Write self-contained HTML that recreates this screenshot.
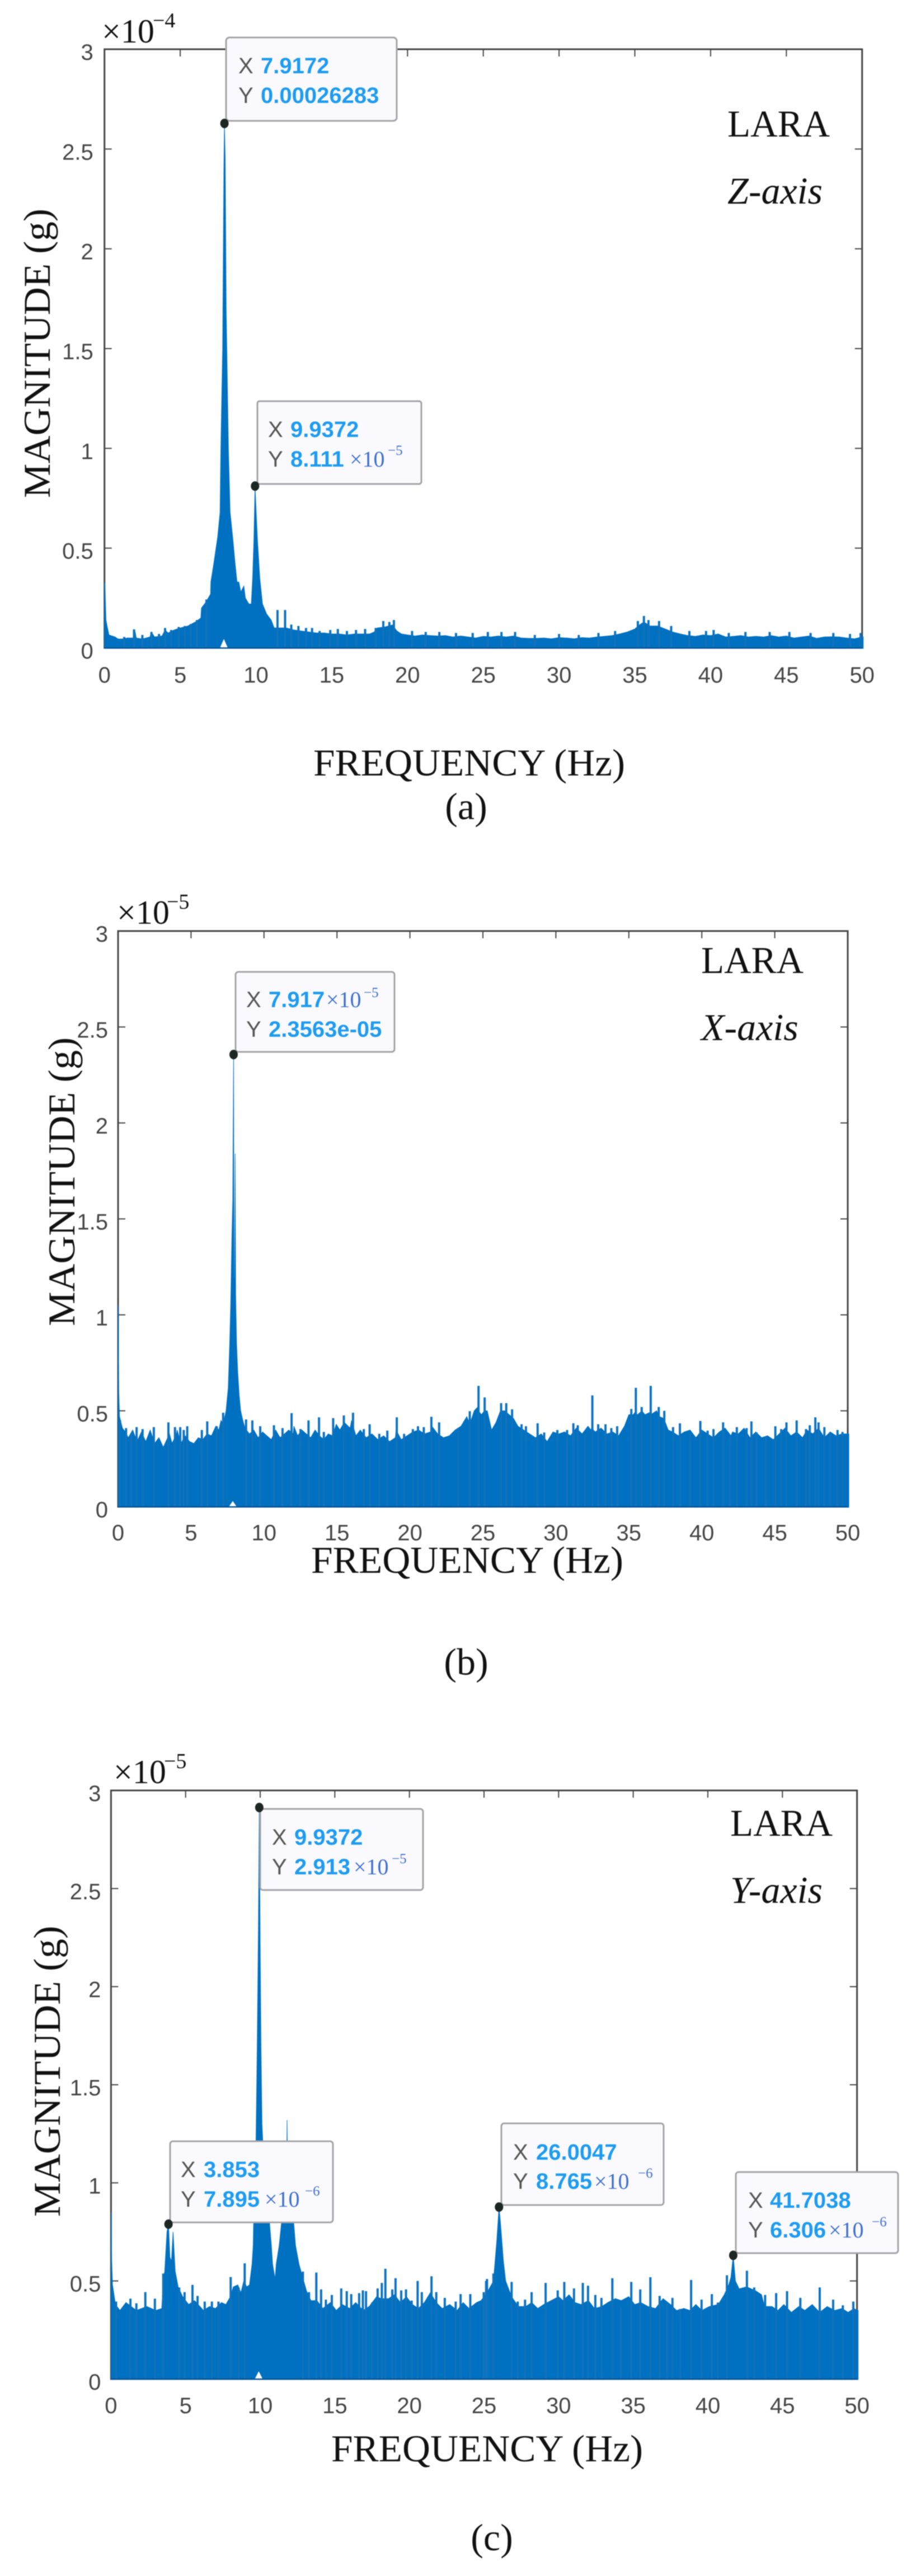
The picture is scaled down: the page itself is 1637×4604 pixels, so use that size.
<!DOCTYPE html>
<html lang="en">
<head>
<meta charset="utf-8">
<title>LARA frequency spectra</title>
<style>
html,body{margin:0;padding:0;background:#fff;width:1637px;height:4604px;overflow:hidden}
svg{display:block;position:absolute;left:0;top:0;filter:blur(0.7px)}
.tick{font:40px "Liberation Sans",sans-serif;fill:#454545}
.title{font:68px "Liberation Serif",serif;fill:#111}
.note{font:68px "Liberation Serif",serif;fill:#111}
.it{font-style:italic}
.exp{font:60px "Liberation Serif",serif;fill:#111}
.exps{font:38px "Liberation Serif",serif;fill:#111}
.box{fill:#fafafe;stroke:#a4a4a8;stroke-width:3}
.ck{font:40px "Liberation Sans",sans-serif;fill:#555}
.cv{font:bold 40px "Liberation Sans",sans-serif;fill:#1f9bee}
.cs{font:40px "Liberation Serif",serif;fill:#3f6fc8}
.css{font:25px "Liberation Serif",serif;fill:#3f6fc8}
</style>
</head>
<body>
<svg id="fig" xmlns="http://www.w3.org/2000/svg" width="1637" height="4604" viewBox="0 0 1637 4604">
  <rect width="1637" height="4604" fill="#fff"/>

  <g id="panel-a"></g>
  <g id="panel-b"></g>
  <g id="panel-c"></g>

  <!-- Panel a text -->
  <text class="exp" x="182" y="76">×10</text>
  <text class="exps" x="273" y="49">−4</text>
  <text class="title" x="560" y="1386" textLength="557" lengthAdjust="spacingAndGlyphs">FREQUENCY (Hz)</text>
  <text class="title" transform="translate(89,890) rotate(-90)" textLength="517" lengthAdjust="spacingAndGlyphs">MAGNITUDE (g)</text>
  <text class="note" x="1300" y="244" textLength="183" lengthAdjust="spacingAndGlyphs">LARA</text>
  <text class="note it" x="1300" y="364">Z-axis</text>
  <text class="title" x="833" y="1464" text-anchor="middle">(a)</text>

  <!-- Panel b text -->
  <text class="exp" x="209" y="1651">×10</text>
  <text class="exps" x="298" y="1624">−5</text>
  <text class="title" x="556" y="2811" textLength="558" lengthAdjust="spacingAndGlyphs">FREQUENCY (Hz)</text>
  <text class="title" transform="translate(133,2370) rotate(-90)" textLength="516" lengthAdjust="spacingAndGlyphs">MAGNITUDE (g)</text>
  <text class="note" x="1253" y="1739" textLength="183" lengthAdjust="spacingAndGlyphs">LARA</text>
  <text class="note it" x="1253" y="1859">X-axis</text>
  <text class="title" x="833" y="2993" text-anchor="middle">(b)</text>

  <!-- Panel c text -->
  <text class="exp" x="203" y="3187">×10</text>
  <text class="exps" x="293" y="3160">−5</text>
  <text class="title" x="592" y="4399" textLength="557" lengthAdjust="spacingAndGlyphs">FREQUENCY (Hz)</text>
  <text class="title" transform="translate(107,3962) rotate(-90)" textLength="520" lengthAdjust="spacingAndGlyphs">MAGNITUDE (g)</text>
  <text class="note" x="1305" y="3281" textLength="183" lengthAdjust="spacingAndGlyphs">LARA</text>
  <text class="note it" x="1305" y="3401">Y-axis</text>
  <text class="title" x="879" y="4558" text-anchor="middle">(c)</text>

  <!-- Data tips -->
  <g>
    <rect class="box" x="404" y="67" width="305" height="149" rx="6"/>
    <text class="ck" x="426" y="131">X</text><text class="cv" x="466" y="131">7.9172</text>
    <text class="ck" x="426" y="184">Y</text><text class="cv" x="466" y="184">0.00026283</text>
  </g>
  <g>
    <rect class="box" x="460" y="717" width="293" height="148" rx="4"/>
    <text class="ck" x="479" y="781">X</text><text class="cv" x="519" y="781">9.9372</text>
    <text class="ck" x="479" y="834">Y</text><text class="cv" x="519" y="834">8.111</text><text class="cs" x="625" y="834">×10</text><text class="css" x="693" y="813">−5</text>
  </g>
  <g>
    <rect class="box" x="421" y="1737" width="284" height="143" rx="5"/>
    <text class="ck" x="440" y="1800">X</text><text class="cv" x="480" y="1800">7.917</text><text class="cs" x="583" y="1800">×10</text><text class="css" x="650" y="1782">−5</text>
    <text class="ck" x="440" y="1853">Y</text><text class="cv" x="480" y="1853">2.3563e-05</text>
  </g>
  <g>
    <rect class="box" x="465" y="3233" width="291" height="145" rx="5"/>
    <text class="ck" x="486" y="3297">X</text><text class="cv" x="526" y="3297">9.9372</text>
    <text class="ck" x="486" y="3350">Y</text><text class="cv" x="526" y="3350">2.913</text><text class="cs" x="632" y="3350">×10</text><text class="css" x="700" y="3330">−5</text>
  </g>
  <g>
    <rect class="box" x="304" y="3827" width="291" height="145" rx="5"/>
    <text class="ck" x="323" y="3891">X</text><text class="cv" x="364" y="3891">3.853</text>
    <text class="ck" x="323" y="3944">Y</text><text class="cv" x="364" y="3944">7.895</text><text class="cs" x="473" y="3944">×10</text><text class="css" x="545" y="3924">−6</text>
  </g>
  <g>
    <rect class="box" x="896" y="3795" width="290" height="146" rx="5"/>
    <text class="ck" x="917" y="3860">X</text><text class="cv" x="958" y="3860">26.0047</text>
    <text class="ck" x="917" y="3912">Y</text><text class="cv" x="958" y="3912">8.765</text><text class="cs" x="1062" y="3912">×10</text><text class="css" x="1140" y="3892">−6</text>
  </g>
  <g>
    <rect class="box" x="1315" y="3882" width="290" height="145" rx="5"/>
    <text class="ck" x="1337" y="3946">X</text><text class="cv" x="1376" y="3946">41.7038</text>
    <text class="ck" x="1337" y="3999">Y</text><text class="cv" x="1376" y="3999">6.306</text><text class="cs" x="1481" y="3999">×10</text><text class="css" x="1558" y="3979">−6</text>
  </g>
  <g id="markers"></g>
</svg>

<script>
const xTickLabels = ['0','5','10','15','20','25','30','35','40','45','50'];
const xTickValues = [0,5,10,15,20,25,30,35,40,45,50];
const yTickLabels = ['0','0.5','1','1.5','2','2.5','3'];
const yTickValues = [0,0.5,1,1.5,2,2.5,3];

/* Panel a: Z-axis, magnitude in units of 1e-4 g */
const zFreq = [
0,.03,.1,.2,.3,.5,.7,.9,1.2,1.5,
1.9,2,2.1,2.5,3,3.1,3.3,3.8,4,4.2,
4.6,5,5.5,6,6.36,6.4,6.7,7,7.02,7.22,
7.47,7.63,7.68,7.8,7.88,7.917,7.97,8.03,8.18,8.29,
8.46,8.62,8.75,8.87,9,9.2,9.3,9.53,9.69,9.78,
9.86,9.937,10,10.1,10.25,10.43,10.7,11,11.2,11.5,
12,12.5,13,13.5,14,14.5,15,15.5,16,16.5,
17,17.5,17.8,18,18.5,19,19.3,19.6,20,20.5,
21,21.5,22,22.5,23,23.5,24,24.5,25,25.5,
26,26.5,27,27.5,28,28.5,29,29.5,30,30.5,
31,31.5,32,32.5,33,33.5,34,34.5,35,35.3,
35.6,36,36.5,37,37.5,38,38.5,39,39.5,40,
40.5,41,41.5,42,42.5,43,43.5,44,44.5,45,
45.5,46,46.5,47,47.5,48,48.5,49,49.5,50];
const zMag = [
.33,.32,.14,.1,.065,.06,.055,.045,.045,.05,
.05,.09,.05,.045,.055,.08,.055,.06,.09,.075,
.09,.1,.11,.13,.15,.2,.23,.27,.33,.425,
.556,.68,1.0,1.5,2.4,2.628,2.45,1.7,1.0,.68,
.556,.425,.33,.33,.28,.31,.25,.22,.22,.35,
.537,.811,.7,.537,.35,.22,.17,.14,.1,.1,
.1,.09,.085,.08,.075,.075,.07,.07,.065,.07,
.07,.07,.08,.1,.105,.115,.085,.07,.065,.06,
.065,.062,.06,.062,.055,.06,.055,.05,.058,.055,
.06,.055,.06,.05,.048,.048,.05,.046,.052,.05,
.046,.052,.05,.055,.058,.062,.07,.08,.095,.115,
.13,.11,.11,.095,.08,.07,.062,.058,.065,.062,
.07,.055,.058,.062,.055,.058,.055,.062,.055,.06,
.05,.055,.06,.048,.055,.056,.055,.05,.046,.055];
const zSpikeFreq = [
1.3,1.95,2.5,3.1,3.6,4,4.4,4.9,5.3,5.7,
6.1,6.73,11.42,11.92,12.33,12.8,13.3,13.7,14.2,14.9,
15.4,16,16.6,17.2,17.9,18.4,18.8,19.1,20.3,21.2,
22.1,23.2,24.3,25.3,26.2,27.1,28.4,30,31.3,32.6,
33.7,35.2,35.6,35.9,36.6,37.4,38.6,39.7,40.2,41.2,
42.3,43.9,45.2,46.6,48.1,49.2,49.9];
const zSpikeMag = [
.055,.093,.065,.08,.07,.1,.09,.105,.11,.12,
.14,.243,.19,.19,.117,.11,.1,.1,.085,.09,
.095,.085,.09,.095,.1,.135,.13,.14,.085,.08,
.08,.075,.075,.08,.08,.08,.065,.07,.065,.075,
.085,.135,.16,.14,.135,.11,.085,.085,.09,.075,
.08,.08,.08,.075,.075,.07,.075];
const zPeakFreq = [7.9172,9.9372];
const zPeakMag = [2.6283,0.8111];
const zNotchFreq = [7.88];
const zNotchMag = [0.045];

/* Panel b: X-axis, magnitude in units of 1e-5 g */
const xFreq = [
0,.02,.05,.1,.2,.3,.5,.7,1,1.3,
1.6,1.9,2.2,2.5,2.8,3.1,3.4,3.45,3.7,4,
4.05,4.3,4.6,4.9,5.2,5.5,5.8,6.1,6.4,6.7,
6.9,7.05,7.2,7.4,7.55,7.65,7.72,7.8,7.86,7.917,
7.94,7.98,8.02,8.06,8.12,8.2,8.3,8.4,8.55,8.7,
9,9.3,9.6,9.9,10.2,10.5,10.8,11.1,11.4,11.7,
12,12.05,12.3,12.6,12.9,13.2,13.5,13.8,14.1,14.4,
14.7,14.95,15.2,15.5,15.9,16,16.3,16.6,17,17.4,
17.8,18.2,18.6,19,19.05,19.4,19.8,20.2,20.6,21,
21.4,21.5,21.9,22.3,22.7,23.1,23.5,23.9,24.1,24.4,
24.65,24.7,24.9,25.1,25.3,25.6,25.9,26.2,26.5,26.8,
27.1,27.4,27.8,28.2,28.6,29,29.4,29.8,30.2,30.6,
31,31.4,31.8,32.2,32.4,32.45,32.7,33.1,33.5,33.9,
34.3,34.7,35,35.3,35.4,35.6,35.9,36.1,36.4,36.5,
36.9,37.1,37.4,37.7,38,38.4,38.8,39.2,39.6,40,
40.4,40.8,41.2,41.6,42,42.1,42.5,42.9,43.3,43.7,
44.1,44.5,44.9,45.3,45.7,46.1,46.5,46.9,47.2,47.6,
48,48.4,48.8,49.2,49.6,50];
const xMag = [
1.05,1.03,.6,.47,.44,.41,.39,.36,.4,.34,
.39,.34,.4,.33,.36,.31,.36,.4,.33,.38,
.4,.33,.37,.34,.33,.36,.35,.38,.37,.42,
.4,.45,.43,.5,.62,.85,1.05,1.4,1.6,2.356,
1.2,1.1,1.84,1.1,.85,.7,.58,.5,.45,.41,
.38,.4,.36,.39,.37,.35,.4,.36,.38,.4,
.38,.42,.37,.4,.38,.36,.4,.37,.35,.38,
.37,.43,.4,.44,.41,.45,.37,.4,.36,.38,
.35,.37,.34,.36,.4,.35,.37,.39,.4,.38,
.39,.42,.38,.36,.37,.4,.42,.47,.43,.5,
.52,.5,.48,.5,.5,.4,.44,.5,.5,.48,
.46,.42,.4,.38,.36,.38,.34,.39,.38,.39,
.37,.41,.38,.42,.4,.41,.39,.41,.38,.39,
.37,.42,.48,.48,.49,.48,.5,.48,.49,.48,
.5,.47,.46,.4,.39,.37,.39,.4,.36,.4,
.38,.36,.39,.41,.37,.39,.38,.41,.36,.39,
.36,.37,.35,.38,.41,.37,.39,.36,.4,.38,
.41,.36,.39,.37,.38,.38];
const xSpikeFreq = [
.14,.55,.9,1.27,1.68,2.45,3.45,3.9,4.26,4.5,
4.74,5.74,6.11,6.76,7.2,8.77,9.2,9.74,10.68,11.27,
11.89,12.5,13.05,13.77,14.1,14.74,15.47,16.1,16.84,17.24,
17.9,18.45,19.1,19.6,20.2,20.55,20.95,21.47,22,23.3,
24.1,24.7,25.12,26.25,26.6,27,27.65,27.95,28.75,29.2,
30.1,30.77,31.2,31.5,32,32.5,32.9,33.4,33.8,34.2,
35.17,35.48,35.88,36.5,37.05,37.43,38.03,38.5,39.2,39.9,
40.4,40.8,41.46,41.95,42.4,43.07,43.4,43.75,44.4,45.04,
45.44,45.8,46.5,47.14,47.4,47.78,48,48.4,48.8,49.3,
49.64];
const xSpikeMag = [
.45,.41,.38,.415,.405,.415,.44,.415,.415,.4,
.42,.4,.445,.42,.49,.455,.45,.42,.425,.41,
.488,.405,.45,.466,.39,.462,.476,.49,.405,.43,
.38,.397,.466,.38,.405,.42,.415,.469,.44,.41,
.498,.63,.57,.54,.54,.508,.43,.42,.435,.387,
.4,.4,.435,.425,.38,.58,.43,.43,.41,.42,
.51,.62,.52,.63,.52,.5,.415,.435,.38,.447,
.397,.405,.44,.37,.415,.41,.445,.387,.367,.42,
.405,.44,.45,.405,.425,.466,.44,.415,.387,.4,
.39];
const xPeakFreq = [7.917];
const xPeakMag = [2.3563];
const xNotchFreq = [7.86];
const xNotchMag = [0.03];

/* Panel c: Y-axis, magnitude in units of 1e-5 g */
const yFreq = [
0,.02,.05,.1,.3,.6,1,1.7,2.4,3,
3.4,3.5,3.6,3.75,3.853,3.95,4.05,4.16,4.3,4.5,
4.8,5.2,5.6,6.2,6.6,7,7.4,7.7,8,8.2,
8.5,8.7,8.9,9.1,9.28,9.45,9.53,9.56,9.7,9.8,
9.88,9.937,10,10.05,10.12,10.3,10.62,10.75,10.83,11,
11.07,11.27,11.43,11.6,11.78,11.8,11.83,12,12.24,12.37,
12.6,13.1,13.4,13.8,14.2,14.7,15.1,15.5,16,16.4,
16.9,17.3,17.8,18.1,18.6,19,19.4,19.8,20.2,20.6,
21,21.4,21.8,22.2,22.7,23.2,23.6,24,24.5,24.8,
25.2,25.63,25.85,26.0047,26.1,26.3,26.45,26.85,27.3,27.8,
28.2,28.6,29,29.5,30,30.3,30.7,31.1,31.5,32,
32.4,32.9,33.3,33.8,34.2,34.7,35.1,35.5,36,36.5,
37,37.5,37.9,38.4,38.8,39.2,39.6,40.1,40.7,41.1,
41.4,41.55,41.7038,41.85,42.1,42.6,43.2,43.6,43.8,44.3,
44.7,45.1,45.6,46.1,46.5,47,47.5,48,48.5,49,
49.4,49.8,50];
const yMag = [
.85,.82,.6,.48,.38,.35,.39,.35,.37,.35,
.36,.5,.55,.75,.7895,.62,.6,.75,.55,.47,
.42,.38,.4,.35,.37,.36,.39,.38,.42,.47,
.48,.44,.5,.47,.48,.585,.68,.8,1.1,1.7,
2.3,2.913,2.2,1.7,1.3,1.0,.8,.68,.585,.51,
.585,.68,.8,.95,1.1,1.32,1.1,.95,.8,.68,
.585,.45,.4,.4,.36,.39,.35,.38,.36,.39,
.35,.37,.42,.41,.41,.43,.39,.42,.38,.36,
.39,.44,.39,.36,.38,.35,.39,.36,.39,.4,
.44,.5,.7,.8765,.8,.6,.5,.42,.37,.37,
.39,.36,.38,.4,.42,.4,.43,.39,.38,.4,
.36,.37,.39,.41,.4,.42,.38,.39,.37,.36,
.41,.38,.35,.36,.35,.38,.35,.37,.38,.43,
.48,.52,.6306,.5,.46,.47,.45,.43,.37,.37,
.35,.38,.34,.37,.35,.38,.34,.37,.35,.36,
.34,.36,.35];
const ySpikeFreq = [
.34,1.3,1.7,2.3,2.94,3.5,4.57,4.93,5.46,5.8,
6.28,6.76,7.2,8.02,8.55,8.96,12.86,13.27,13.76,14.08,
14.4,14.8,15.43,15.8,16.1,16.63,16.88,17.09,17.5,17.87,
18.15,18.39,18.85,19.07,19.45,19.77,20.15,20.55,20.83,21.48,
21.8,22.37,23.1,23.43,24.08,24.98,25.14,25.2,25.63,26.85,
27.26,27.75,28.19,29.13,29.94,30.38,31.03,31.62,31.97,32.46,
32.87,33.6,34.17,34.87,35.47,36.15,36.77,37.26,37.63,38.15,
38.88,39.58,40.27,40.67,41.28,42.62,43.11,43.84,44.58,45.31,
46.2,47.5,48.4,49.05,49.75];
const ySpikeMag = [
.395,.41,.386,.443,.41,.538,.467,.443,.48,.424,
.395,.395,.395,.52,.467,.59,.548,.443,.543,.457,
.405,.429,.462,.448,.433,.438,.452,.448,.39,.462,
.49,.562,.457,.514,.452,.457,.4,.5,.443,.524,
.443,.414,.395,.433,.433,.443,.5,.51,.538,.495,
.395,.405,.443,.49,.452,.495,.462,.49,.476,.429,
.414,.514,.367,.495,.457,.519,.424,.39,.414,.357,
.505,.405,.433,.39,.529,.552,.467,.429,.438,.448,
.414,.467,.405,.376,.395];
const yPeakFreq = [3.853,9.9372,26.0047,41.7038];
const yPeakMag = [0.7895,2.913,0.8765,0.6306];
const yNotchFreq = [9.9];
const yNotchMag = [0.04];

const SVGNS = 'http://www.w3.org/2000/svg';
function mk(parent, tag, attrs, text) {
  const el = document.createElementNS(SVGNS, tag);
  for (const k in attrs) el.setAttribute(k, attrs[k]);
  if (text !== undefined) el.textContent = text;
  parent.appendChild(el);
  return el;
}

function drawPanel(id, box, s) {
  const g = document.getElementById(id);
  const sx = f => box.left + (f / 50) * (box.right - box.left);
  const sy = v => box.bottom - (v / 3) * (box.bottom - box.top);
  const freq = s.freq, mag = s.mag;

  let d = 'M' + sx(freq[0]).toFixed(1) + ' ' + (box.bottom + 1);
  const n = Math.min(freq.length, mag.length);
  for (let i = 0; i < n; i++) {
    d += 'L' + sx(freq[i]).toFixed(1) + ' ' + sy(mag[i]).toFixed(1);
  }
  d += 'L' + (sx(freq[n - 1]) + 2).toFixed(1) + ' ' + sy(mag[n - 1]).toFixed(1);
  d += 'L' + (sx(freq[n - 1]) + 2).toFixed(1) + ' ' + (box.bottom + 1) + 'Z';

  const frame = mk(g, 'rect', {x: box.left, y: box.top, width: box.right - box.left, height: box.bottom - box.top, fill: 'none', stroke: '#444', 'stroke-width': 3});
  
  

  xTickValues.forEach((t, i) => {
    const x = sx(t);
    const top = mk(g, 'line', {x1: x, x2: x, y1: box.top, y2: box.top + 13, stroke: '#444', 'stroke-width': 2});
    
    
    const lab = mk(g, 'text', {x: x, y: box.bottom + box.xLabelGap, 'text-anchor': 'middle', 'class': 'tick'}, xTickLabels[i]);
    
    
  });
  yTickValues.forEach((t, i) => {
    const y = sy(t);
    const left = mk(g, 'line', {x1: box.left, x2: box.left + 13, y1: y, y2: y, stroke: '#444', 'stroke-width': 2});
    
    
    const right = mk(g, 'line', {x1: box.right - 13, x2: box.right, y1: y, y2: y, stroke: '#444', 'stroke-width': 2});
    
    
    const lab = mk(g, 'text', {x: box.left - box.yLabelGap, y: y + 19, 'text-anchor': 'end', 'class': 'tick'}, yTickLabels[i]);
    
    
  });

  const area = mk(g, 'path', {d: d, fill: '#0070c0', stroke: '#0070c0', 'stroke-width': 1});
  
  

  s.spikeFreq.forEach((f, i) => {
    const spike = mk(g, 'line', {x1: sx(f), x2: sx(f), y1: box.bottom, y2: sy(s.spikeMag[i]), stroke: '#0f72bd', 'stroke-width': 4});
    
    
  });

  s.notchFreq.forEach((f, i) => {
    const notch = mk(g, 'path', {d: 'M' + (sx(f) - 7) + ' ' + box.bottom + 'L' + sx(f) + ' ' + sy(s.notchMag[i]) + 'L' + (sx(f) + 7) + ' ' + box.bottom + 'Z', fill: '#fff'});
    
    
  });

  const base = mk(g, 'line', {x1: box.left, x2: box.right, y1: box.bottom, y2: box.bottom, stroke: '#0b4f8f', 'stroke-width': 2});
  
  

  const markers = document.getElementById('markers');
  s.peakFreq.forEach((f, i) => {
    const c = mk(markers, 'ellipse', {cx: sx(f), cy: sy(s.peakMag[i]), rx: 7.5, ry: 8.5, fill: '#1c2622'});
    
    
  });
}

drawPanel('panel-a', {left: 186.7, right: 1540.7, top: 88, bottom: 1158, xLabelGap: 62, yLabelGap: 20},
  {freq: zFreq, mag: zMag, spikeFreq: zSpikeFreq, spikeMag: zSpikeMag, peakFreq: zPeakFreq, peakMag: zPeakMag, notchFreq: zNotchFreq, notchMag: zNotchMag});
drawPanel('panel-b', {left: 211, right: 1515, top: 1664, bottom: 2693, xLabelGap: 60, yLabelGap: 18},
  {freq: xFreq, mag: xMag, spikeFreq: xSpikeFreq, spikeMag: xSpikeMag, peakFreq: xPeakFreq, peakMag: xPeakMag, notchFreq: xNotchFreq, notchMag: xNotchMag});
drawPanel('panel-c', {left: 198.4, right: 1531.6, top: 3200, bottom: 4252, xLabelGap: 61, yLabelGap: 18},
  {freq: yFreq, mag: yMag, spikeFreq: ySpikeFreq, spikeMag: ySpikeMag, peakFreq: yPeakFreq, peakMag: yPeakMag, notchFreq: yNotchFreq, notchMag: yNotchMag});
</script>
</body>
</html>
